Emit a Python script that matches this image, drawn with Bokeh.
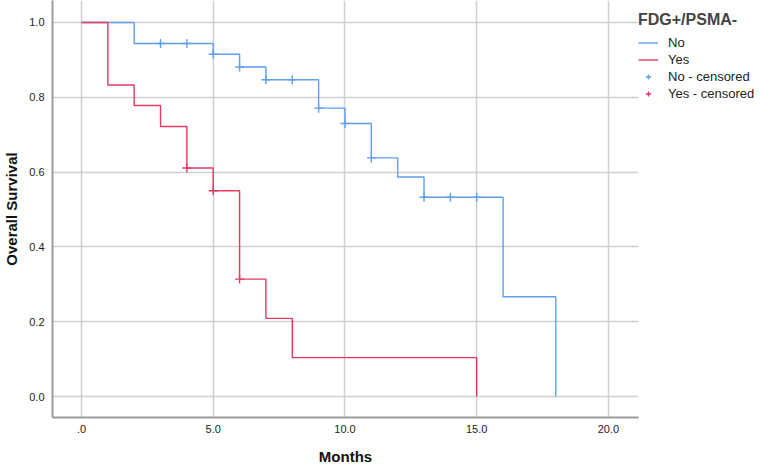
from bokeh.plotting import figure
from bokeh.models import Legend, LegendItem, FixedTicker, CustomJSTickFormatter
from bokeh.embed import file_html
from bokeh.resources import INLINE

# Kaplan-Meier data
no_time = [0, 2, 5, 6, 7, 9, 10, 11, 12, 13, 16, 18]
no_surv = [1.0, 0.944, 0.915, 0.881, 0.847, 0.771, 0.730, 0.638, 0.587, 0.533, 0.267, 0.0]
yes_time = [0, 1, 2, 3, 4, 5, 6, 7, 8, 15]
yes_surv = [1.0, 0.833, 0.778, 0.722, 0.611, 0.550, 0.314, 0.209, 0.104, 0.0]

no_cens_time = [3, 4, 5, 6, 7, 8, 9, 10, 11, 13, 14, 15]
no_cens_surv = [0.944, 0.944, 0.915, 0.881, 0.847, 0.847, 0.771, 0.730, 0.638, 0.533, 0.533, 0.533]
yes_cens_time = [4, 5, 6]
yes_cens_surv = [0.611, 0.550, 0.314]

x_ticks = [0, 5, 10, 15, 20]
y_ticks = [0.0, 0.2, 0.4, 0.6, 0.8, 1.0]

BLUE = "#5f9fee"
RED = "#e23a62"

p = figure(frame_width=586, frame_height=417, output_backend="svg", toolbar_location=None,
           x_range=(-1.1, 21.14), y_range=(-0.056, 1.0588),
           min_border_left=0, min_border_right=0, min_border_top=0, min_border_bottom=0)
p.outline_line_color = None
p.background_fill_color = "white"

r_no = p.step(no_time, no_surv, mode="after", line_color=BLUE, line_width=1.4)
r_yes = p.step(yes_time, yes_surv, mode="after", line_color=RED, line_width=1.4)
r_nc = p.scatter(no_cens_time, no_cens_surv, marker="cross", size=9, line_color=BLUE, line_width=1.4)
r_yc = p.scatter(yes_cens_time, yes_cens_surv, marker="cross", size=9, line_color=RED, line_width=1.4)

for ax in (p.xaxis[0], p.yaxis[0]):
    ax.axis_line_color = "#9a9a9a"
    ax.axis_line_width = 2
    ax.major_tick_in = 0
    ax.major_tick_out = 0
    ax.minor_tick_in = 0
    ax.minor_tick_out = 0
    ax.major_label_text_font = "Liberation Sans"
    ax.major_label_text_font_size = "11px"
    ax.major_label_text_color = "#222222"
    ax.axis_label_text_font = "Liberation Sans"
    ax.axis_label_text_font_style = "bold"
    ax.axis_label_text_font_size = "15px"
    ax.axis_label_text_color = "#111111"

p.xaxis.ticker = FixedTicker(ticks=x_ticks)
p.yaxis.ticker = FixedTicker(ticks=y_ticks)
p.xaxis.formatter = CustomJSTickFormatter(code="return tick === 0 ? '.0' : tick.toFixed(1);")
p.yaxis.formatter = CustomJSTickFormatter(code="return tick.toFixed(1);")
p.xaxis.major_label_standoff = 7
p.yaxis.major_label_standoff = 8
p.xaxis.axis_label = "Months"
p.yaxis.axis_label = "Overall Survival"
p.xaxis.axis_label_standoff = 12
p.yaxis.axis_label_standoff = 6

p.xgrid.grid_line_color = "#cfcfcf"
p.ygrid.grid_line_color = "#cfcfcf"
p.xgrid.grid_line_width = 1.5
p.ygrid.grid_line_width = 1.5

legend = Legend(items=[
    LegendItem(label="No", renderers=[r_no]),
    LegendItem(label="Yes", renderers=[r_yes]),
    LegendItem(label="No - censored", renderers=[r_nc]),
    LegendItem(label="Yes - censored", renderers=[r_yc]),
], location=(0, 316))
legend.title = "FDG+/PSMA-"
legend.title_text_font = "Liberation Sans"
legend.title_text_font_style = "bold"
legend.title_text_font_size = "16px"
legend.title_standoff = 6
legend.label_text_font = "Liberation Sans"
legend.label_text_font_size = "13px"
legend.label_text_color = "#222222"
legend.glyph_width = 20
legend.glyph_height = 13
legend.label_height = 13
legend.label_standoff = 10
legend.spacing = 2
legend.padding = 3
legend.margin = 0
legend.border_line_color = None
legend.background_fill_alpha = 0
p.add_layout(legend, "right")

open("out.html", "w").write(file_html(p, INLINE))
